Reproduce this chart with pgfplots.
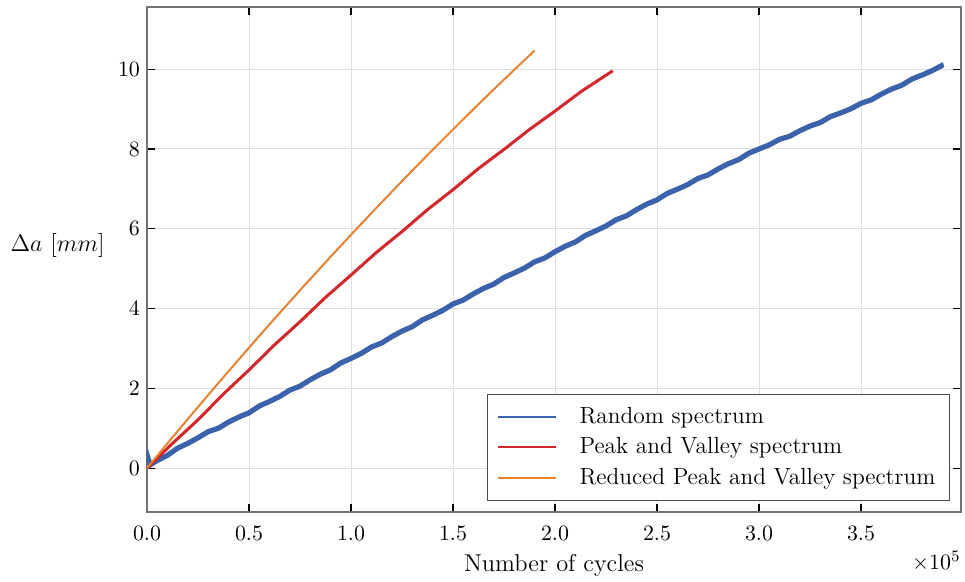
\documentclass[border=0pt]{standalone}
\usepackage{pgfplots}
\pgfplotsset{compat=1.18}
\definecolor{cblue}{RGB}{59,98,171}
\definecolor{cred}{RGB}{211,39,44}
\definecolor{corange}{RGB}{232,130,50}
\begin{document}
\begin{tikzpicture}
\begin{axis}[
  width=407pt, height=252.5pt, scale only axis,
  xmin=0, xmax=3.99, ymin=-1.1, ymax=11.56,
  xtick={0,0.5,1,1.5,2,2.5,3,3.5},
  ytick={0,2,4,6,8,10},
  xticklabel style={yshift=-3.5pt, /pgf/number format/.cd, fixed, fixed zerofill, precision=1},
  tick label style={font=\fontsize{11.3}{13}\selectfont},
  tick align=inside, major tick length=4pt,
  tick style={black, line width=0.6pt},
  axis line style={black!55, line width=0.9pt},
  grid=major, grid style={black!13, line width=0.5pt},
  xlabel={Number of cycles},
  ylabel={$\Delta a\ [mm]$},
  label style={font=\fontsize{12.2}{14}\selectfont},
  ylabel style={rotate=-90, at={(rel axis cs:0,0.527)}, anchor=east, inner sep=0pt, xshift=-21pt},
  legend cell align=left,
  legend image code/.code={\draw[#1, line width=1.1pt] (0pt,0pt) -- (29pt,0pt);},
  legend style={at={(rel axis cs:1,0)}, anchor=south east, xshift=-5.5pt, yshift=5.5pt,
    draw=black!70, line width=0.6pt, font=\fontsize{11.7}{13.5}\selectfont,
    row sep=1.6pt, inner xsep=5pt, inner ysep=4.5pt,
    /tikz/every odd column/.append style={column sep=9pt}},
]
\addplot[cblue, line width=2.6pt] coordinates {
(0,0) (0.005,0.25) (0.015,0.08) (0.05,0.19) (0.10,0.32) (0.15,0.50) (0.20,0.62) (0.25,0.76)
(0.30,0.915) (0.35,1.00) (0.40,1.155) (0.45,1.28) (0.50,1.385) (0.55,1.555) (0.60,1.67)
(0.65,1.795) (0.70,1.955) (0.75,2.055) (0.80,2.215) (0.85,2.355) (0.90,2.465) (0.95,2.635)
(1.00,2.75) (1.05,2.875) (1.10,3.035) (1.15,3.135) (1.20,3.295) (1.25,3.435) (1.30,3.545)
(1.35,3.715) (1.40,3.83) (1.45,3.955) (1.50,4.115) (1.55,4.212) (1.60,4.369) (1.65,4.506)
(1.70,4.613) (1.75,4.78) (1.80,4.892) (1.85,5.014) (1.90,5.171) (1.95,5.268) (2.00,5.425)
(2.05,5.562) (2.10,5.669) (2.15,5.836) (2.20,5.948) (2.25,6.07) (2.30,6.227) (2.35,6.324)
(2.40,6.481) (2.45,6.618) (2.50,6.725) (2.55,6.886) (2.60,6.992) (2.65,7.108) (2.70,7.259)
(2.75,7.35) (2.80,7.501) (2.85,7.632) (2.90,7.733) (2.95,7.894) (3.00,8.00) (3.05,8.103)
(3.10,8.241) (3.15,8.319) (3.20,8.457) (3.25,8.575) (3.30,8.663) (3.35,8.811) (3.40,8.904)
(3.45,9.007) (3.50,9.145) (3.55,9.231) (3.60,9.377) (3.65,9.503) (3.70,9.599) (3.75,9.755)
(3.80,9.856) (3.85,9.967) (3.90,10.103) (3.905,10.11)
};
\addlegendentry{Random spectrum}
\addplot[cred, line width=1.5pt] coordinates {
(0,0) (0.125,0.62) (0.25,1.21) (0.375,1.86) (0.5,2.46) (0.625,3.09) (0.75,3.67)
(0.875,4.28) (1.0,4.84) (1.125,5.41) (1.25,5.93) (1.375,6.48) (1.5,6.98) (1.625,7.51)
(1.75,7.99) (1.875,8.49) (2.0,8.95) (2.125,9.43) (2.25,9.85) (2.283,9.96)
};
\addlegendentry{Peak and Valley spectrum}
\addplot[corange, line width=1.0pt] coordinates {
(0,0) (0.125,0.772) (0.25,1.533) (0.375,2.282) (0.5,3.019) (0.625,3.745) (0.75,4.458)
(0.875,5.160) (1.0,5.85) (1.125,6.528) (1.25,7.195) (1.375,7.849) (1.5,8.491) (1.625,9.123)
(1.75,9.742) (1.9,10.47)
};
\addlegendentry{Reduced Peak and Valley spectrum}
\end{axis}
\node[anchor=north east, inner sep=0pt, font=\fontsize{11.3}{13}\selectfont]
  at ([yshift=-19.5pt]current axis.south east) {$\times10^{5}$};
\pgfresetboundingbox
\path[use as bounding box] ([shift={(-73.5pt,-35pt)}]current axis.south west) rectangle ([shift={(2pt,3.5pt)}]current axis.north east);
\end{tikzpicture}
\end{document}
